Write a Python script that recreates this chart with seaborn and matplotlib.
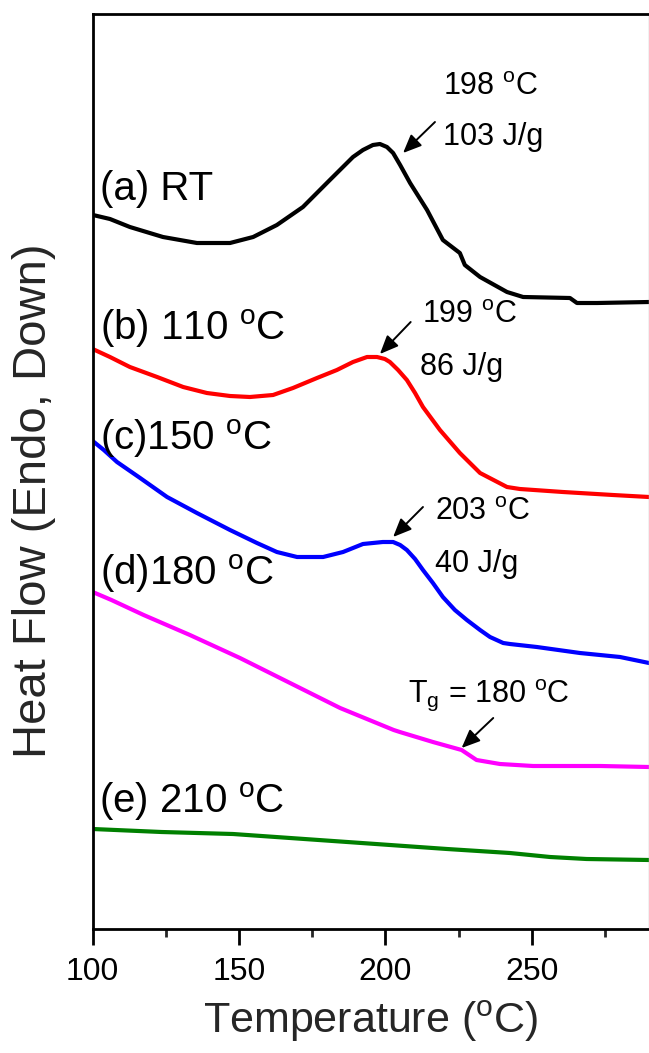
import numpy as np
import pandas as pd
import matplotlib
matplotlib.use("Agg")
import matplotlib.pyplot as plt
import seaborn as sns

# ---------------- data ----------------
temp_a = [100.1, 105.9, 112.7, 124.0, 135.6, 146.9, 154.8, 162.9, 171.8, 181.0, 188.9, 192.3,
          195.7, 198.1, 200.5, 202.6, 205.0, 208.4, 214.2, 219.6, 225.4, 227.1, 232.3, 241.5,
          247.0, 263.0, 265.4, 272.3, 290.0]
hf_a = [7.14, 7.10, 7.02, 6.92, 6.86, 6.86, 6.92, 7.04, 7.22, 7.49, 7.72, 7.79,
        7.84, 7.85, 7.82, 7.76, 7.64, 7.46, 7.19, 6.89, 6.76, 6.64, 6.52, 6.37,
        6.32, 6.31, 6.26, 6.26, 6.27]

temp_b = [100.0, 105.9, 112.7, 122.0, 130.9, 139.0, 146.9, 153.7, 161.6, 168.4, 176.6, 183.4,
          188.9, 193.7, 197.1, 199.8, 201.5, 204.3, 207.3, 210.1, 212.8, 218.6, 225.4, 232.3,
          241.5, 245.9, 260.6, 277.7, 290.0]
hf_b = [5.80, 5.72, 5.62, 5.52, 5.42, 5.36, 5.33, 5.32, 5.34, 5.41, 5.51, 5.59,
        5.67, 5.72, 5.72, 5.70, 5.67, 5.59, 5.49, 5.36, 5.22, 4.99, 4.76, 4.56,
        4.42, 4.40, 4.37, 4.34, 4.32]

temp_c = [100.0, 103.8, 108.3, 116.2, 125.4, 135.6, 146.9, 156.1, 162.9, 169.8, 178.7, 185.5,
          192.3, 199.1, 202.6, 205.0, 207.3, 210.1, 212.8, 216.2, 219.6, 223.7, 227.8, 232.3,
          235.7, 240.2, 242.5, 251.7, 266.4, 280.1, 290.0]
hf_c = [4.88, 4.79, 4.67, 4.51, 4.32, 4.16, 3.99, 3.86, 3.77, 3.72, 3.72, 3.77,
        3.85, 3.87, 3.87, 3.84, 3.79, 3.70, 3.59, 3.46, 3.32, 3.19, 3.09, 2.99,
        2.92, 2.86, 2.85, 2.82, 2.76, 2.72, 2.66]

temp_d = [100.0, 106.4, 117.4, 133.2, 150.3, 167.4, 184.5, 202.8, 204.9, 216.2, 226.0, 231.1,
          239.1, 250.4, 261.9, 273.4, 290.0]
hf_d = [3.37, 3.29, 3.14, 2.94, 2.71, 2.46, 2.21, 1.99, 1.97, 1.87, 1.79, 1.69,
        1.65, 1.63, 1.63, 1.63, 1.62]

temp_e = [100.0, 123.5, 147.9, 172.3, 196.7, 221.0, 242.5, 256.2, 268.7, 290.0]
hf_e = [1.00, 0.97, 0.95, 0.90, 0.85, 0.80, 0.76, 0.72, 0.70, 0.69]

series_labels = ["(a) RT", "(b) 110 $^o$C", "(c)150 $^o$C", "(d)180 $^o$C", "(e) 210 $^o$C"]
series_colors = ["#000000", "#FF0000", "#0000FF", "#FF00FF", "#008000"]
label_x = [102.5, 102.5, 102.5, 102.5, 102.3]
label_y = [7.29, 5.89, 4.79, 3.44, 1.16]

peak_texts = ["198 $^o$C", "103 J/g", "199 $^o$C", "86 J/g", "203 $^o$C", "40 J/g", "T$_g$ = 180 $^o$C"]
peak_text_x = [219.6, 219.6, 212.5, 211.8, 216.9, 216.9, 207.7]
peak_text_y = [8.34, 7.84, 6.06, 5.54, 4.09, 3.57, 2.27]

arrow_start_x = [216.9, 208.6, 212.8, 236.8]
arrow_start_y = [8.07, 6.07, 4.22, 2.11]
arrow_tip_x = [206.0, 198.1, 202.6, 226.0]
arrow_tip_y = [7.76, 5.75, 3.92, 1.81]

x_major = [100, 150, 200, 250]
x_minor = [125, 175, 225, 275]

# ---------------- style ----------------
sns.set_theme(style="white")
plt.rcParams["font.family"] = ["Liberation Sans", "DejaVu Sans"]
plt.rcParams["mathtext.fontset"] = "custom"
plt.rcParams["mathtext.rm"] = "Liberation Sans"
plt.rcParams["mathtext.it"] = "Liberation Sans:italic"
plt.rcParams["mathtext.bf"] = "Liberation Sans:bold"
plt.rcParams["mathtext.default"] = "regular"

fig = plt.figure(figsize=(6.49, 10.53), dpi=100)
ax = fig.add_axes([92.7 / 649, 124 / 1053, 1 - 92.7 / 649, 915 / 1053])

temps = [temp_a, temp_b, temp_c, temp_d, temp_e]
hfs = [hf_a, hf_b, hf_c, hf_d, hf_e]
frames = []
for name, t, h in zip(series_labels, temps, hfs):
    frames.append(pd.DataFrame({"Temperature": t, "HeatFlow": h, "sample": name}))
df = pd.concat(frames, ignore_index=True)

sns.lineplot(data=df, x="Temperature", y="HeatFlow", hue="sample",
             palette=dict(zip(series_labels, series_colors)),
             estimator=None, sort=False, lw=3.0, legend=False, ax=ax)
for ln in ax.lines:
    ln.set_solid_joinstyle("round")
    ln.set_solid_capstyle("round")

ax.set_xlim(100, 290)
ax.set_ylim(0, 9.15)

for lab, x, y in zip(series_labels, label_x, label_y):
    ax.text(x, y, lab, fontsize=29, ha="left", va="baseline", color="black")

for t, x, y in zip(peak_texts, peak_text_x, peak_text_y):
    ax.text(x, y, t, fontsize=22, ha="left", va="baseline", color="black")

for sx, sy, tx, ty in zip(arrow_start_x, arrow_start_y, arrow_tip_x, arrow_tip_y):
    ax.annotate("", xy=(tx, ty), xytext=(sx, sy),
                arrowprops=dict(arrowstyle="-|>,head_length=0.7,head_width=0.3",
                                color="black", lw=1.4, shrinkA=0, shrinkB=0,
                                mutation_scale=16))

ax.set_xticks(x_major)
ax.set_xticks(x_minor, minor=True)
ax.set_yticks([])
ax.tick_params(axis="x", which="major", direction="out", length=11.5, width=2,
               labelsize=23, pad=9, colors="black", bottom=True)
ax.tick_params(axis="x", which="minor", direction="out", length=6, width=2, bottom=True)
for side in ["left", "bottom", "top", "right"]:
    ax.spines[side].set_visible(True)
    ax.spines[side].set_color("black")
    ax.spines[side].set_linewidth(2)
ax.spines["right"].set_color("#bbbbbb")
ax.spines["right"].set_linewidth(1)

ax.set_xlabel("Temperature ($^o$C)", fontsize=31, labelpad=8)
ax.set_ylabel("Heat Flow (Endo, Down)", fontsize=34)
ax.yaxis.set_label_coords(-0.066, 0.468)

fig.savefig("out.png", dpi=100)
